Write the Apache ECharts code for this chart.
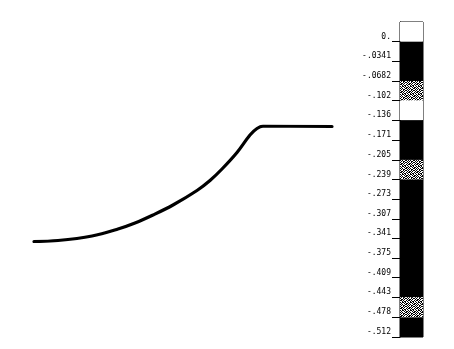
<!DOCTYPE html>
<html><head><meta charset="utf-8">
<script src="https://cdn.jsdelivr.net/npm/echarts@6/dist/echarts.min.js"></script>
<style>html,body{margin:0;padding:0;background:#fff}#c{width:454px;height:349px}</style>
</head><body><div id="c"></div>
<script>
// Profile curve (distance, height) in arbitrary units
const profileX = [0, 24, 58, 84, 101, 119, 139, 163, 176, 188, 203, 216, 223, 229, 298];
const profileY = [0, 1, 5.5, 12.5, 18.5, 26.5, 36.5, 51, 61, 72.5, 89, 106.5, 113, 115.3, 115];

// Colour bar tick labels and values
const tickLabels = ['0.','-.0341','-.0682','-.102','-.136','-.171','-.205','-.239','-.273','-.307','-.341','-.375','-.409','-.443','-.478','-.512'];
const tickValues = [0,-0.0341,-0.0682,-0.102,-0.136,-0.171,-0.205,-0.239,-0.273,-0.307,-0.341,-0.375,-0.409,-0.443,-0.478,-0.512];

// Colour bar bands
const bandTop    = [0.0341, 0, -0.0682, -0.102, -0.136, -0.205, -0.239, -0.443, -0.478];
const bandBottom = [0, -0.0682, -0.102, -0.136, -0.205, -0.239, -0.443, -0.478, -0.512];
const bandFill   = ['white','black','dots','white','black','dots','black','dots','black'];

function makeDots(){
  const bits = [
    '10100110',
    '01011001',
    '10010110',
    '01101001',
    '11010010',
    '00101101',
    '10110100',
    '01001011'];
  const c = document.createElement('canvas'); c.width = 8; c.height = 8;
  const g = c.getContext('2d');
  g.fillStyle = '#fff'; g.fillRect(0,0,8,8);
  g.fillStyle = '#000';
  for (let r=0;r<8;r++) for (let k=0;k<8;k++) if (bits[r][k]==='1') g.fillRect(k,r,1,1);
  return c;
}
const dots = makeDots();
function fillOf(f){ return f==='dots' ? {image: dots, repeat: 'repeat'} : (f==='black' ? '#000' : '#fff'); }

const step = 0.512/15;
const chart = echarts.init(document.getElementById('c'));
chart.setOption({
  animation: false,
  backgroundColor: '#fff',
  grid: [
    {left: 34, top: 126, width: 298, height: 115.5},
    {left: 400, top: 22, width: 23, height: 315, show: true, borderColor: '#000', borderWidth: 1, backgroundColor: '#fff'}
  ],
  xAxis: [
    {gridIndex: 0, type: 'value', min: 0, max: 298, show: false},
    {gridIndex: 1, type: 'value', min: 0, max: 1, show: false}
  ],
  yAxis: [
    {gridIndex: 0, type: 'value', min: 0, max: 115.5, show: false},
    {gridIndex: 1, type: 'value', min: -15*step, max: step, interval: step,
     axisLine: {show: true, lineStyle: {color: '#000', width: 1}},
     axisTick: {show: true, length: 8, customValues: tickValues, lineStyle: {color: '#000', width: 1}},
     splitLine: {show: false},
     axisLabel: {
       margin: 9, fontFamily: 'DejaVu Sans Mono', fontSize: 8, color: '#000',
       verticalAlign: 'bottom', lineHeight: 10, customValues: tickValues,
       formatter: function(v){ const i = tickValues.indexOf(v); return i >= 0 ? tickLabels[i] : ''; }
     }}
  ],
  series: [
    {type: 'line', xAxisIndex: 0, yAxisIndex: 0, showSymbol: false, smooth: 0.35,
     lineStyle: {color: '#000', width: 3.2, cap: 'round', join: 'round'},
     data: profileX.map((x,i)=>[x, profileY[i]])},
    {type: 'line', xAxisIndex: 1, yAxisIndex: 1, data: [], silent: true,
     markArea: {silent: true,
       data: bandTop.map((t,i)=>[
         {yAxis: t, itemStyle: {color: fillOf(bandFill[i]), opacity: 1}},
         {yAxis: bandBottom[i]}
       ])}}
  ]
});
</script></body></html>
